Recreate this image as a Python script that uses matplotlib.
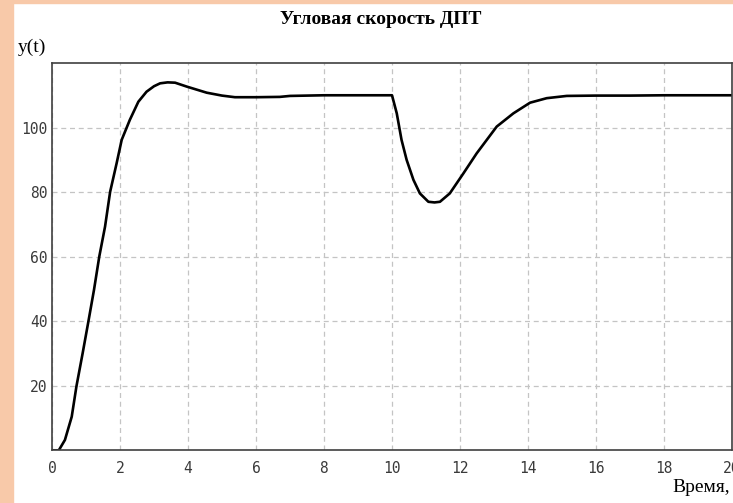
import matplotlib
matplotlib.use("Agg")
import matplotlib.pyplot as plt
from matplotlib.patches import Rectangle

# time, s and angular speed
t = [0, 0.2, 0.38, 0.58, 0.72, 0.9, 1.07, 1.235, 1.39, 1.56, 1.71, 1.9, 2.05,
     2.29, 2.54, 2.78, 3.0, 3.18, 3.4, 3.62, 3.96, 4.55, 5.0, 5.38, 6.0, 6.7,
     7.0, 8.0, 9.0, 10.0, 10.14, 10.28, 10.43, 10.63, 10.82, 11.07, 11.25,
     11.41, 11.7, 12.1, 12.49, 13.08, 13.57, 14.06, 14.55, 15.14, 16.0, 17.0,
     18.0, 19.0, 20.0]
w = [0, 0, 3.2, 10.4, 19.9, 30, 39.9, 49.7, 60, 69.3, 80.1, 88.9, 96.2,
     102.4, 108, 111.1, 112.8, 113.7, 114, 113.9, 112.7, 110.8, 109.9, 109.4,
     109.4, 109.5, 109.8, 110, 110, 110, 104.4, 96.2, 90, 83.8, 79.6, 77.0,
     76.8, 77.0, 79.6, 85.8, 92, 100.3, 104.4, 107.7, 109.1, 109.8, 109.9,
     109.9, 110, 110, 110]

xticks = [0, 2, 4, 6, 8, 10, 12, 14, 16, 18, 20]
yticks = [20, 40, 60, 80, 100]

fig = plt.figure(figsize=(7.33, 5.03), dpi=100)
fig.patch.set_facecolor("white")
peach = "#f8c9a9"
fig.patches.append(Rectangle((0, 0), 13 / 733, 1, transform=fig.transFigure, color=peach, zorder=0))
fig.patches.append(Rectangle((0, 1 - 3 / 503), 1, 3 / 503, transform=fig.transFigure, color=peach, zorder=0))

ax = fig.add_axes([52 / 733, 52.7 / 503, 680 / 733, 387.3 / 503])
ax.plot(t, w, color="black", lw=1.9)
ax.set_xlim(0, 20)
ax.set_ylim(0, 120)
ax.set_xticks(xticks)
ax.set_yticks(yticks)
ax.grid(True, color="#c4c4c4", linestyle=(0, (4, 3)), lw=0.9)
for s in ax.spines.values():
    s.set_color("#404040")
    s.set_linewidth(1.2)
ax.tick_params(length=0, labelcolor="#3a3a3a", labelsize=10.5)
ax.tick_params(axis="x", pad=8)
ax.tick_params(axis="y", pad=3)
for lab in ax.get_xticklabels() + ax.get_yticklabels():
    lab.set_family("DejaVu Sans Mono")

fig.text(381 / 733, 1 - 20 / 503, "Угловая скорость ДПТ", ha="center", va="center",
         family="Liberation Serif", fontweight="bold", fontsize=14)
fig.text(18 / 733, 1 - 47 / 503, "y(t)", ha="left", va="center",
         family="Liberation Serif", fontsize=14)
fig.text(672 / 733, 1 - 488 / 503, "Время,", ha="left", va="center",
         family="Liberation Serif", fontsize=14)

fig.savefig("out.png", dpi=100)
